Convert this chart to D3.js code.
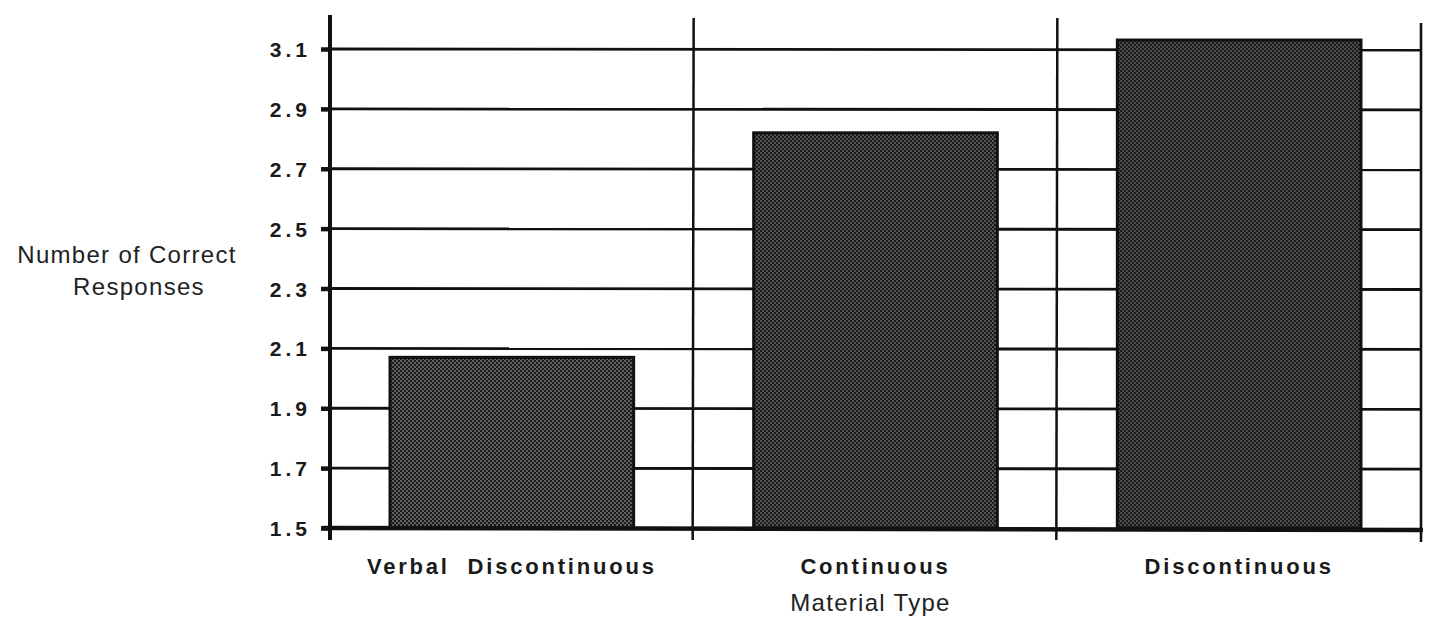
<!DOCTYPE html>
<html lang="en">
<head>
<meta charset="UTF-8">
<title>Number of Correct Responses by Material Type</title>
<style>
  body { margin: 0; background: #fff; }
  svg { display: block; }
  .tick-label { font-family: 'Liberation Sans', Arial, sans-serif; font-weight: bold; font-size: 21px; letter-spacing: 4px; fill: #1a1a1a; }
  .cat-label { font-family: 'Liberation Sans', Arial, sans-serif; font-weight: bold; font-size: 22px; letter-spacing: 2.8px; fill: #1a1a1a; }
  .axis-title { font-family: 'Liberation Sans', Arial, sans-serif; font-size: 24px; letter-spacing: 1.3px; fill: #222; }
</style>
</head>
<body>
<div id="chart"></div>
<script src="https://d3js.org/d3.v7.min.js"></script>
<script>
// data
const categories = ['Verbal  Discontinuous', 'Continuous', 'Discontinuous'];
const values = [2.07, 2.82, 3.13];
const yTicks = [1.5, 1.7, 1.9, 2.1, 2.3, 2.5, 2.7, 2.9, 3.1];
const yTitle = ['Number of Correct', 'Responses'];
const xTitle = 'Material Type';

const W = 1436, H = 619;
const plotLeft = 330, plotRight = 1421, base = 528, plotTop = 49;

const svg = d3.select('#chart').append('svg')
  .attr('width', W).attr('height', H);

// halftone fills, a touch lighter for the first bar
const dotShades = ['#a2a2a2', '#888', '#7a7a7a'];
const defs = svg.append('defs');
dotShades.forEach((shade, i) => {
  const pat = defs.append('pattern')
    .attr('id', 'dots' + i)
    .attr('width', 4).attr('height', 4)
    .attr('patternUnits', 'userSpaceOnUse');
  pat.append('rect').attr('width', 4).attr('height', 4).attr('fill', '#1c1c1c');
  pat.append('circle').attr('cx', 1).attr('cy', 1).attr('r', 0.85).attr('fill', shade);
  pat.append('circle').attr('cx', 3).attr('cy', 3).attr('r', 0.85).attr('fill', shade);
});

const x = d3.scaleBand()
  .domain(categories)
  .range([plotLeft, plotRight])
  .paddingInner(0.33)
  .paddingOuter(0.165);

const xCell = d3.scaleBand()
  .domain(categories)
  .range([plotLeft, plotRight])
  .padding(0);

const y = d3.scaleLinear()
  .domain([1.5, 3.1])
  .range([base, plotTop]);

// horizontal grid lines
svg.append('g').selectAll('line')
  .data(yTicks.slice(1))
  .join('line')
  .attr('x1', plotLeft).attr('x2', plotRight)
  .attr('y1', d => y(d)).attr('y2', d => y(d) + 1)
  .attr('stroke', '#111').attr('stroke-width', 2.8);

// vertical dividers between categories
const dividers = categories.map(c => xCell(c) + xCell.bandwidth()).slice(0, -1);
svg.append('g').selectAll('line')
  .data(dividers)
  .join('line')
  .attr('x1', d => d).attr('x2', d => d - 1)
  .attr('y1', 18).attr('y2', base + 12)
  .attr('stroke', '#111').attr('stroke-width', 2.5);

// right edge
svg.append('line')
  .attr('x1', plotRight).attr('x2', plotRight)
  .attr('y1', 23).attr('y2', base + 14)
  .attr('stroke', '#111').attr('stroke-width', 2.6);

// bars
svg.append('g').selectAll('rect')
  .data(values)
  .join('rect')
  .attr('x', (d, i) => x(categories[i]))
  .attr('y', d => y(d))
  .attr('width', x.bandwidth())
  .attr('height', d => base - y(d))
  .attr('fill', (d, i) => `url(#dots${i})`)
  .attr('stroke', '#111')
  .attr('stroke-width', 3);

// y axis
const yAxis = d3.axisLeft(y)
  .tickValues(yTicks)
  .tickSize(9)
  .tickPadding(10)
  .tickFormat(d3.format('.1f'));

const gy = svg.append('g')
  .attr('transform', `translate(${plotLeft},0)`)
  .call(yAxis);
gy.select('.domain').remove();
gy.selectAll('.tick line').attr('stroke', '#111').attr('stroke-width', 4.5);
gy.selectAll('.tick text').attr('class', 'tick-label').attr('dy', '0.36em');

svg.append('line')
  .attr('x1', plotLeft).attr('x2', plotLeft)
  .attr('y1', 15).attr('y2', base + 12)
  .attr('stroke', '#111').attr('stroke-width', 4);

// baseline
svg.append('line')
  .attr('x1', plotLeft - 8).attr('x2', plotRight + 2)
  .attr('y1', base).attr('y2', base + 2)
  .attr('stroke', '#111').attr('stroke-width', 4.5);

// category labels
svg.append('g').selectAll('text')
  .data(categories)
  .join('text')
  .attr('class', 'cat-label')
  .attr('x', d => x(d) + x.bandwidth() / 2)
  .attr('y', 574)
  .attr('text-anchor', 'middle')
  .style('white-space', 'pre')
  .text(d => d);

svg.append('text')
  .attr('class', 'axis-title')
  .attr('x', (plotLeft + plotRight) / 2 - 5)
  .attr('y', 611)
  .attr('text-anchor', 'middle')
  .text(xTitle);

svg.append('text')
  .attr('class', 'axis-title')
  .attr('text-anchor', 'middle')
  .selectAll('tspan')
  .data(yTitle)
  .join('tspan')
  .attr('x', (d, i) => i === 0 ? 127 : 139)
  .attr('y', (d, i) => 263 + i * 32)
  .text(d => d);
</script>
</body>
</html>
